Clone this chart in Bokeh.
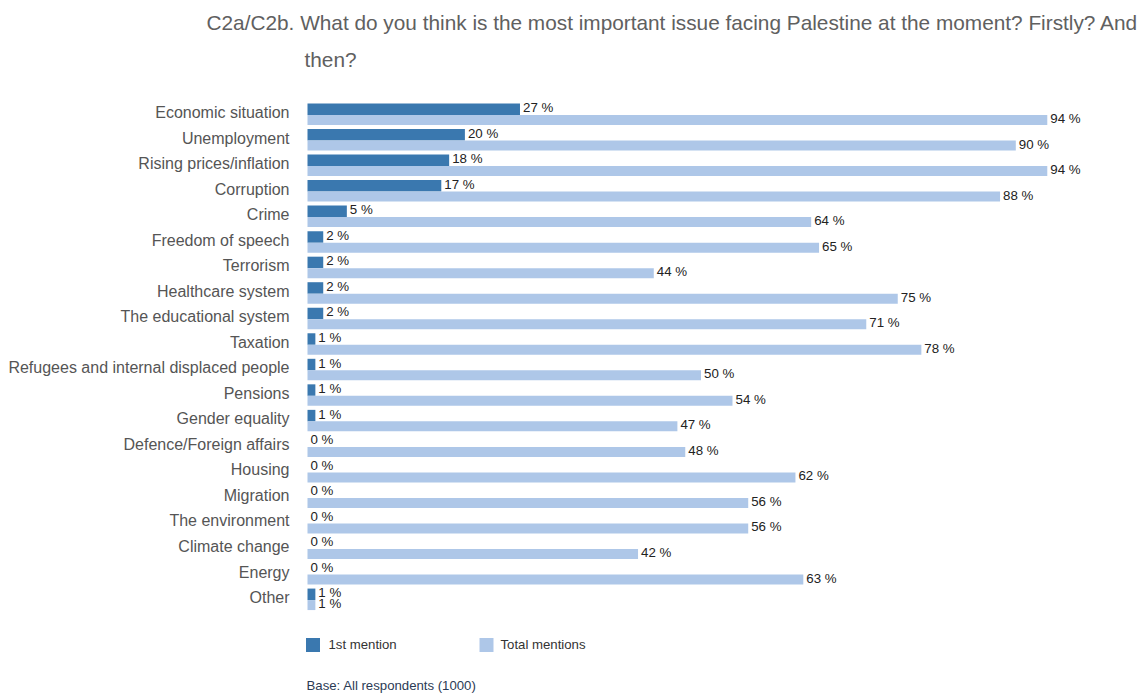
from bokeh.plotting import figure
from bokeh.models import Range1d
from bokeh.core.properties import value
from bokeh.embed import file_html
from bokeh.resources import INLINE

categories = ["Economic situation", "Unemployment", "Rising prices/inflation", "Corruption",
              "Crime", "Freedom of speech", "Terrorism", "Healthcare system",
              "The educational system", "Taxation", "Refugees and internal displaced people",
              "Pensions", "Gender equality", "Defence/Foreign affairs", "Housing", "Migration",
              "The environment", "Climate change", "Energy", "Other"]
first_mention = [27, 20, 18, 17, 5, 2, 2, 2, 2, 1, 1, 1, 1, 0, 0, 0, 0, 0, 0, 1]
total_mentions = [94, 90, 94, 88, 64, 65, 44, 75, 71, 78, 50, 54, 47, 48, 62, 56, 56, 42, 63, 1]
series_names = ["1st mention", "Total mentions"]
title_lines = ["C2a/C2b. What do you think is the most important issue facing Palestine at the moment? Firstly? And",
               "then?"]
footer = "Base: All respondents (1000)"

DARK = "#3a78af"
LIGHT = "#aec7e8"
FONT = "Liberation Sans"

W, H = 1148, 693
S = 7.87          # px per percent
X0 = 307          # canvas px of 0 %
ROW = 25.53       # px per row
Y0 = 114.5        # canvas px of first row boundary

def px2x(px):
    return (px - X0) / S

def px2y(py):
    return (py - Y0) / ROW

p = figure(width=W, height=H, output_backend="svg", toolbar_location=None,
           x_range=Range1d(-X0 / S, (W - X0) / S),
           y_range=Range1d((H - Y0) / ROW, -Y0 / ROW),
           x_axis_location=None, y_axis_location=None, min_border=0)
p.outline_line_color = None
p.xgrid.visible = False
p.ygrid.visible = False
p.background_fill_color = "white"
p.border_fill_color = "white"

rows = list(range(len(categories)))
dh, lh = 11.5, 10.0
p.hbar(y=[r - dh / 2 / ROW for r in rows], right=first_mention, left=0,
       height=dh / ROW, fill_color=DARK, line_color=None)
p.hbar(y=[r + lh / 2 / ROW for r in rows], right=total_mentions, left=0,
       height=lh / ROW, fill_color=LIGHT, line_color=None)

p.text(x=first_mention, y=[r - dh / 2 / ROW for r in rows],
       text=[f"{v} %" for v in first_mention], x_offset=3, y_offset=-1.5,
       text_font=value(FONT), text_font_size="13.3px", text_color="#222222",
       text_baseline="middle", text_align="left")
p.text(x=total_mentions, y=[r + lh / 2 / ROW for r in rows],
       text=[f"{v} %" for v in total_mentions], x_offset=3, y_offset=-1.5,
       text_font=value(FONT), text_font_size="13.3px", text_color="#222222",
       text_baseline="middle", text_align="left")

p.text(x=[0] * len(rows), y=rows, text=categories, x_offset=-18, y_offset=-2.5,
       text_font=value(FONT), text_font_size="16px", text_color="#555555",
       text_baseline="middle", text_align="right")

# title
p.text(x=[px2x(206), px2x(304)], y=[px2y(22), px2y(59)], text=title_lines,
       text_font=value(FONT), text_font_size="20.8px", text_color="#606060",
       text_baseline="middle", text_align="left")

# legend
p.scatter(x=[px2x(312.5), px2x(486)], y=[px2y(644.5), px2y(644.5)], marker="square",
          size=14, fill_color=[DARK, LIGHT], line_color=None)
p.text(x=[px2x(328), px2x(500)], y=[px2y(644), px2y(644)], text=series_names,
       text_font=value(FONT), text_font_size="13.2px", text_color="#333333",
       text_baseline="middle", text_align="left")

# footer
p.text(x=[px2x(306)], y=[px2y(685)], text=[footer],
       text_font=value(FONT), text_font_size="13.2px", text_color="#2b3b55",
       text_baseline="middle", text_align="left")

open("out.html", "w").write(file_html(p, INLINE))
